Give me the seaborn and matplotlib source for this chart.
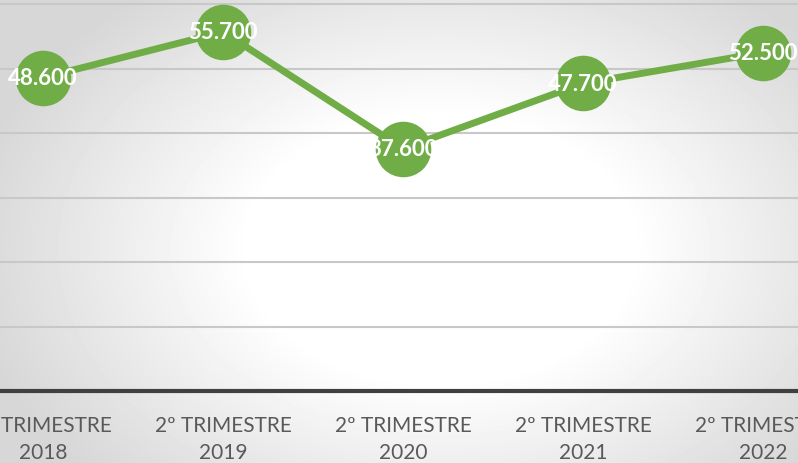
import numpy as np
import pandas as pd
import matplotlib
matplotlib.use("Agg")
import matplotlib.pyplot as plt
import seaborn as sns

# chart data
periods = ["2º TRIMESTRE\n2018", "2º TRIMESTRE\n2019", "2º TRIMESTRE\n2020",
           "2º TRIMESTRE\n2021", "2º TRIMESTRE\n2022"]
values = [48.6, 55.7, 37.6, 47.7, 52.5]
value_labels = ["48.600", "55.700", "37.600", "47.700", "52.500"]

GREEN = "#70AD47"

sns.set_theme(style="white")
plt.rcParams["font.family"] = ["Lato", "DejaVu Sans"]

fig = plt.figure(figsize=(7.98, 4.64), dpi=100)

# radial gradient background
bg = fig.add_axes([0, 0, 1, 1], zorder=-1)
yy, xx = np.mgrid[0:464, 0:798]
r = np.sqrt(((xx - 440) / 480.0) ** 2 + ((yy - 250) / 330.0) ** 2)
shade = 1 - 0.16 * np.clip((r - 0.4) / 0.6, 0, 1)
bg.imshow(shade, cmap="gray", vmin=0, vmax=1, aspect="auto", extent=[0, 1, 0, 1])
bg.axis("off")

ax = fig.add_axes([0, 72 / 464, 1, 1 - 72 / 464])
ax.set_facecolor("none")

df = pd.DataFrame({"x": range(len(periods)), "value": values})
sns.lineplot(data=df, x="x", y="value", ax=ax, color=GREEN, linewidth=5,
             marker="o", markersize=40, markeredgewidth=0, zorder=3)

for i, (v, lab) in enumerate(zip(values, value_labels)):
    ax.text(i, v, lab, ha="center", va="center", color="white",
            fontsize=16, fontweight="bold", zorder=4)

ax.set_xlim(-0.239, 4.194)
ax.set_ylim(0, 60.8)
ax.set_yticks([10, 20, 30, 40, 50, 60])
ax.yaxis.grid(True, color="#c8c8c8", linewidth=1.5)
ax.set_yticklabels([])
ax.tick_params(axis="y", length=0)
ax.set_xticks(range(len(periods)))
ax.set_xticklabels(periods, color="#595959", fontsize=15, linespacing=1.45)
ax.tick_params(axis="x", length=0, pad=17)
ax.set_xlabel("")
ax.set_ylabel("")
for s in ["top", "left", "right"]:
    ax.spines[s].set_visible(False)
ax.spines["bottom"].set_color("#404040")
ax.spines["bottom"].set_linewidth(3)

fig.savefig("out.png", dpi=100)
